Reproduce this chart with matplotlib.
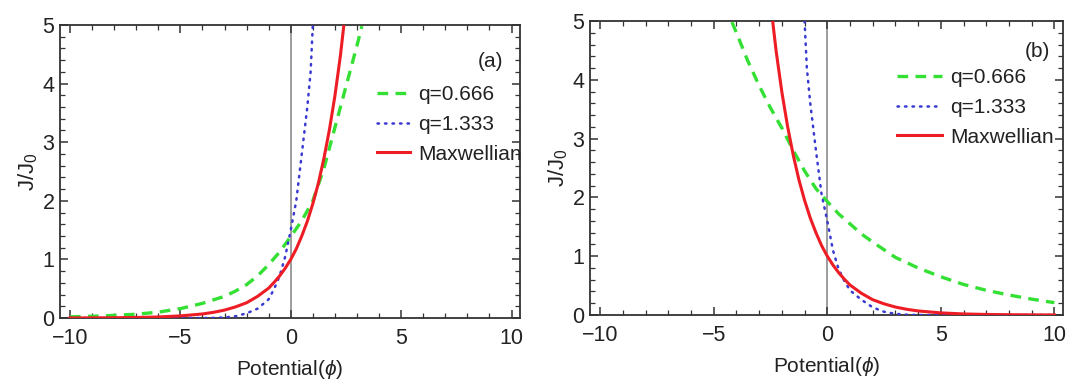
import matplotlib
matplotlib.use('Agg')
import matplotlib.pyplot as plt
from matplotlib.ticker import MultipleLocator

plt.rcParams['font.family'] = ['Liberation Sans', 'DejaVu Sans']
plt.rcParams['mathtext.fontset'] = 'custom'
plt.rcParams['mathtext.it'] = 'Liberation Sans:italic'
plt.rcParams['mathtext.rm'] = 'Liberation Sans'

# Panel (a): current rises with potential
a_max_x = [-10, -9, -8, -7, -6, -5, -4, -3.5, -3, -2.5, -2, -1.5, -1, -0.75, -0.5,
           -0.25, 0, 0.25, 0.5, 0.75, 1.0, 1.25, 1.5, 1.75, 2.0, 2.25, 2.4]
a_max_y = [0.0013, 0.0025, 0.005, 0.0094, 0.018, 0.036, 0.069, 0.097, 0.135, 0.19, 0.26,
           0.37, 0.51, 0.61, 0.72, 0.85, 1.0, 1.18, 1.40, 1.65, 1.95, 2.30, 2.72, 3.21,
           3.79, 4.48, 4.98]

a_q066_x = [-10, -9, -8, -7, -6, -5, -4, -3, -2.5, -2, -1.5, -1, -0.5, 0, 0.5, 1.0,
            1.5, 2.0, 2.5, 3.0, 3.22]
a_q066_y = [0.02, 0.03, 0.045, 0.065, 0.1, 0.16, 0.25, 0.37, 0.46, 0.57, 0.72, 0.91,
            1.13, 1.39, 1.66, 2.0, 2.55, 3.25, 3.95, 4.65, 4.98]

a_q133_x = [-10, -6, -4, -3.5, -3, -2.5, -2, -1.5, -1, -0.75, -0.5, -0.25, 0, 0.25,
            0.5, 0.75, 0.9, 1.0]
a_q133_y = [0, 0, 0, 0.002, 0.01, 0.03, 0.08, 0.16, 0.32, 0.5, 0.72, 1.05, 1.5, 2.0,
            2.8, 3.6, 4.2, 5.0]

# Panel (b): current falls with potential
b_max_x = [-2.4, -2.25, -2.0, -1.75, -1.5, -1.25, -1.0, -0.75, -0.5, -0.25, 0, 0.25,
           0.5, 0.75, 1, 1.5, 2, 2.5, 3, 3.5, 4, 5, 6, 7, 8, 9, 10]
b_max_y = [4.98, 4.48, 3.79, 3.21, 2.72, 2.30, 1.95, 1.65, 1.40, 1.18, 1.0, 0.85, 0.72,
           0.61, 0.51, 0.37, 0.26, 0.19, 0.135, 0.097, 0.069, 0.036, 0.018, 0.0094,
           0.005, 0.0025, 0.0013]

b_q066_x = [-4.2, -4, -3.5, -3, -2.5, -2, -1.5, -1, -0.5, 0, 0.5, 1, 1.5, 2, 3, 4, 5,
            6, 7, 8, 9, 10]
b_q066_y = [4.98, 4.8, 4.32, 3.9, 3.52, 3.18, 2.8, 2.45, 2.15, 1.93, 1.72, 1.55, 1.38,
            1.24, 0.98, 0.8, 0.65, 0.52, 0.42, 0.34, 0.27, 0.21]

b_q133_x = [-1.0, -0.9, -0.75, -0.5, -0.25, 0, 0.25, 0.5, 0.75, 1.0, 1.5, 2.0, 2.5,
            3.0, 3.5, 4, 6, 10]
b_q133_y = [5.0, 4.2, 3.6, 2.8, 2.05, 1.6, 1.1, 0.78, 0.58, 0.42, 0.26, 0.13, 0.055,
            0.02, 0.005, 0, 0, 0]

labels = ['q=0.666', 'q=1.333', 'Maxwellian']
panel_tags = ['(a)', '(b)']

green = '#33e033'
blue = '#3a3ad0'
red = '#ee1c24'
frame = '#333333'
text_col = '#222222'

fig = plt.figure(figsize=(10.83, 3.82), dpi=100)
ax_a = fig.add_axes([0.0554, 0.1675, 0.4247, 0.767])
ax_b = fig.add_axes([0.5448, 0.1754, 0.4367, 0.7696])

panels = [
    (ax_a, a_q066_x, a_q066_y, a_q133_x, a_q133_y, a_max_x, a_max_y),
    (ax_b, b_q066_x, b_q066_y, b_q133_x, b_q133_y, b_max_x, b_max_y),
]
legend_pos = [(0.689, 0.795), (0.649, 0.84)]
handle_len = [1.6, 2.15]
tag_pos = [(0.963, 0.874), (0.972, 0.895)]

for i, (ax, gx, gy, bx, by, rx, ry) in enumerate(panels):
    ax.axvline(0, color='#8c8c8c', lw=1.2, zorder=1)
    ax.plot(gx, gy, color=green, lw=2.4, ls=(0, (3.2, 2.2)), label=labels[0], zorder=3)
    ax.plot(bx, by, color=blue, lw=1.8, ls=(0, (0.6, 2.4)), label=labels[1],
            dash_capstyle='round', zorder=3)
    ax.plot(rx, ry, color=red, lw=2.2, label=labels[2], zorder=4)

    ax.set_xlim(-10.45, 10.38)
    ax.set_ylim(0, 5)
    ax.xaxis.set_major_locator(MultipleLocator(5))
    ax.xaxis.set_minor_locator(MultipleLocator(1))
    ax.yaxis.set_major_locator(MultipleLocator(1))
    ax.yaxis.set_minor_locator(MultipleLocator(0.2))
    ax.tick_params(which='both', direction='in', top=True, right=True,
                   color=frame, labelcolor=text_col, labelsize=15.5)
    ax.tick_params(which='major', length=6, width=1.1, pad=4)
    ax.tick_params(axis='x', which='major', pad=7)
    ax.tick_params(which='minor', length=3.5, width=0.9)
    for side in ax.spines.values():
        side.set_color(frame)
        side.set_linewidth(1.3)

    ax.set_xlabel(r'Potential($\mathit{\phi}$)', fontsize=15, color=text_col, labelpad=7)
    ax.set_ylabel(r'J/J$_\mathregular{0}$', fontsize=16, color=text_col, labelpad=2)

    ax.text(tag_pos[i][0], tag_pos[i][1], panel_tags[i], transform=ax.transAxes,
            ha='right', va='center', fontsize=15, color=text_col)

    ax.legend(loc='upper left', bbox_to_anchor=legend_pos[i], borderaxespad=0,
              borderpad=0, frameon=False, fontsize=15, handlelength=handle_len[i],
              handletextpad=0.4, labelspacing=0.52, labelcolor=text_col)

fig.savefig('out.png', dpi=100)
